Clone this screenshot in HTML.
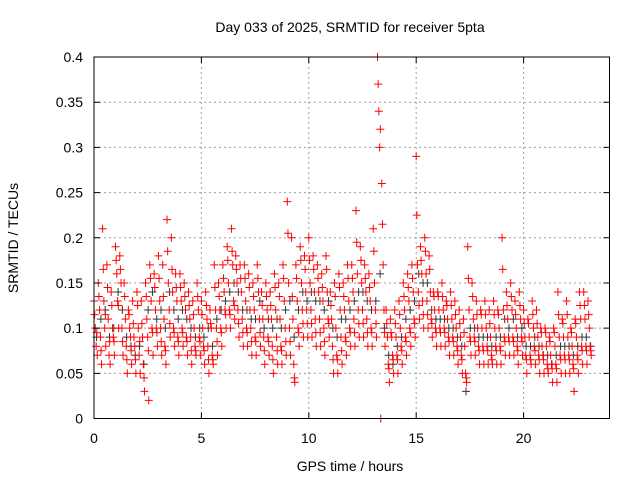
<!DOCTYPE html>
<html><head><meta charset="utf-8"><style>
html,body{margin:0;padding:0;background:#fff}
svg{display:block;font-family:"Liberation Sans",sans-serif}
</style></head><body>
<svg id="chart" width="640" height="480" viewBox="0 0 640 480">
<rect width="640" height="480" fill="#fff"/>
<g id="grid"></g>
<g id="darkPts"></g>
<g id="redPts"></g>
<rect x="94" y="57" width="515.5" height="361.5" fill="none" stroke="#000" stroke-width="1"/>
<g id="ticks"></g>
<text x="350" y="32" text-anchor="middle" font-size="14">Day 033 of 2025, SRMTID for receiver 5pta</text>
<text x="350" y="471" text-anchor="middle" font-size="14">GPS time / hours</text>
<text x="18" y="238" text-anchor="middle" font-size="14" transform="rotate(-90 18 238)">SRMTID / TECUs</text>
</svg>
<script>
const xTicks=[0,5,10,15,20];
const yTicks=[0,0.05,0.1,0.15,0.2,0.25,0.3,0.35,0.4];
const yTickLabels=["0","0.05","0.1","0.15","0.2","0.25","0.3","0.35","0.4"];
const binHours=0.2;
const red1=[.13,.15,.21,.17,.14, .19,.18,.15,.12,.13, .14,.13,.15,.17,.16, .18,.17,.22,.20,.16, .16,.15,.14,.13,.15, .13,.14,.12,.17,.15, .17,.19,.21,.18,.17, .17,.16,.15,.17,.14, .15,.14,.16,.15,.17, .24,.20,.17,.19,.18, .20,.18,.17,.16,.18, .14,.15,.16,.15,.17, .17,.23,.19,.17,.16, .21,.40,.26,.12,.11, .12,.13,.15,.16,.17, .29,.19,.20,.18,.14, .14,.15,.13,.14,.13, .12,.11,.19,.15,.13, .12,.13,.12,.13,.12, .20,.14,.15,.13,.14, .12,.11,.13,.12,.10, .10,.09,.10,.14,.11, .13,.10,.11,.14,.14, .13];
const red2=[.10,.12,.13,.11,.10, .16,.15,.11,.10,.09, .10,.09,.11,.13,.12, .13,.11,.15,.14,.13, .13,.12,.11,.10,.12, .10,.11,.10,.12,.12, .14,.15,.17,.15,.14, .13,.12,.12,.14,.11, .12,.11,.12,.11,.13, .15,.11,.13,.15,.14, .15,.14,.14,.13,.14, .11,.10,.12,.12,.13, .14,.16,.15,.14,.13, .15,.34,.17,.09,.09, .09,.10,.12,.13,.14, .17,.16,.16,.14,.12, .12,.12,.11,.11,.10, .09,.08,.12,.11,.10, .10,.10,.09,.10,.10, .12,.11,.12,.10,.11, .09,.09,.10,.09,.08, .08,.07,.08,.09,.09, .09,.08,.09,.11,.11, .10];
const red3=[.08,.09,.10,.07,.09, .13,.10,.08,.09,.08, .07,.06,.09,.10,.10, .10,.08,.12,.10,.09, .10,.09,.09,.08,.09, .08,.08,.07,.10,.10, .12,.12,.13,.12,.11, .10,.10,.09,.11,.09, .09,.08,.09,.08,.10, .10,.06,.10,.12,.12, .12,.11,.11,.10,.11, .08,.07,.09,.09,.10, .11,.12,.12,.11,.10, .12,.30,.12,.06,.07, .07,.08,.09,.10,.11, .14,.13,.13,.11,.10, .10,.10,.09,.09,.08, .07,.05,.09,.09,.08, .08,.08,.07,.08,.08, .09,.09,.09,.08,.09, .07,.07,.08,.07,.07, .06,.06,.06,.07,.07, .07,.06,.07,.08,.08, .08];
const red4=[.07,.06,.08,.06,.07, .10,.07,.05,.06,.05, .05,.03,.02,.07,.08, .07,.06,.09,.08,.07, .08,.07,.06,.07,.07, .06,.05,.06,.07,.08, .10,.10,.11,.09,.08, .08,.07,.07,.08,.06, .07,.05,.06,.06,.07, .07,.04,.08,.09,.09, .09,.08,.08,.07,.09, .05,.05,.06,.07,.08, .08,.09,.09,.08,.08, .09,.00,.08,.04,.05, .05,.06,.07,.08,.09, .11,.10,.10,.09,.08, .08,.08,.07,.07,.06, .05,.04,.07,.07,.06, .06,.06,.06,.06,.06, .07,.07,.07,.06,.07, .05,.06,.06,.05,.05, .05,.04,.04,.05,.05, .05,.03,.05,.06,.06, .07];
const red5=[.115,.135,.165,.145,.125, .175,.165,.135,.115,.105, .125,.105,.135,.155,.145, .155,.135,.185,.165,.145, .145,.135,.125,.115,.135, .115,.125,.105,.145,.135, .155,.175,.185,.165,.155, .155,.145,.135,.155,.125, .135,.125,.145,.135,.155, .205,.135,.155,.175,.165, .175,.165,.155,.145,.165, .125,.135,.145,.135,.155, .155,.195,.175,.155,.145, .185,.37,.215,.105,.095, .105,.115,.135,.145,.155, .225,.175,.185,.165,.135, .135,.135,.125,.125,.115, .105,.095,.155,.135,.115, .115,.115,.105,.115,.115, .165,.125,.135,.115,.125, .105,.105,.115,.105,.095, .095,.085,.095,.115,.105, .115,.095,.105,.125,.125, .115];
const red6=[.095,.075,.115,.085,.085, .125,.085,.065,.075,.065, .085,.045,.075,.095,.095, .085,.075,.105,.095,.085, .095,.085,.075,.075,.085, .075,.065,.065,.085,.095, .115,.115,.125,.105,.095, .095,.085,.085,.095,.075, .085,.065,.075,.075,.085, .085,.045,.095,.105,.105, .105,.095,.095,.085,.105, .065,.065,.075,.085,.095, .095,.105,.105,.095,.095, .105,.32,.095,.055,.065, .065,.075,.085,.095,.105, .125,.115,.115,.105,.095, .095,.095,.085,.085,.075, .065,.045,.085,.085,.075, .075,.075,.065,.075,.075, .085,.085,.085,.075,.085, .065,.065,.075,.065,.065, .055,.055,.055,.065,.065, .065,.055,.065,.075,.075, .075];
const dark1=[.09,.11,.12,.09,.10, .14,.12,.09,.08,.07, .08,.06,.12,.14,.11, .12,.10,.14,.12,.11, .12,.11,.10,.09,.10, .09,.10,.08,.11,.12, .13,.14,.15,.14,.12, .12,.11,.11,.13,.10, .11,.10,.11,.10,.12, .13,.09,.12,.14,.13, .14,.13,.13,.12,.13, .10,.09,.11,.11,.12, .13,.14,.14,.13,.12, .13,.16,.10,.07,.06, .08,.09,.11,.12,.13, .16,.15,.15,.12,.11, .11,.11,.10,.10,.09, .08,.03,.10,.10,.09, .09,.09,.08,.09,.09, .11,.10,.11,.09,.10, .08,.08,.09,.08,.07, .07,.06,.07,.08,.08, .08,.07,.08,.09,.09, .08];

const X0=94,X1=609.5,Y0=418.5,Y1=57,XMAX=24,YMAX=0.4;
const xs=t=>X0+(t/XMAX)*(X1-X0);
const ys=v=>Y0-(v/YMAX)*(Y0-Y1);
const NS="http://www.w3.org/2000/svg";
function mk(tag,attrs,parent){const e=document.createElementNS(NS,tag);for(const k in attrs)e.setAttribute(k,attrs[k]);parent.appendChild(e);return e;}
const grid=document.getElementById('grid'),ticks=document.getElementById('ticks');
xTicks.forEach((t,i)=>{
  const x=xs(t);
  if(t>0){const g=mk('line',{x1:x,x2:x,y1:Y1,y2:Y0,stroke:'#a0a0a0','stroke-dasharray':'2,3','stroke-width':1},grid);
  
  }
  const tk=mk('path',{d:`M${x},${Y0}v-6M${x},${Y1}v6`,stroke:'#000','stroke-width':1},ticks);
  
  
  const lb=mk('text',{x:x,y:443,'text-anchor':'middle','font-size':14},ticks);lb.textContent=String(t);
  
  
});
yTicks.forEach((v,i)=>{
  const y=ys(v);
  if(v>0&&v<YMAX){const g=mk('line',{x1:X0,x2:X1,y1:y,y2:y,stroke:'#a0a0a0','stroke-dasharray':'2,3','stroke-width':1},grid);
  
  }
  const tk=mk('path',{d:`M${X0},${y}h6M${X1},${y}h-6`,stroke:'#000','stroke-width':1},ticks);
  
  
  const lb=mk('text',{x:83,y:y+5,'text-anchor':'end','font-size':14},ticks);lb.textContent=yTickLabels[i];
  
  
});
function plot(series,offset,color,group,name){
  let d='';
  series.forEach((v,i)=>{const t=i*binHours+offset;if(t>XMAX)return;const x=xs(t),y=ys(v);d+=`M${x-4},${y}h8M${x},${y-4}v8`;});
  const p=mk('path',{d:d,stroke:color,'stroke-width':1,fill:'none'},group);
  
  
}
const dg=document.getElementById('darkPts'),rg=document.getElementById('redPts');
plot(dark1,0.12,'#333',dg,'dark-markers');
plot(red1,0.0,'#f00',rg,'red-markers-1');
plot(red2,0.06,'#f00',rg,'red-markers-2');
plot(red3,0.1,'#f00',rg,'red-markers-3');
plot(red4,0.15,'#f00',rg,'red-markers-4');
plot(red5,0.03,'#f00',rg,'red-markers-5');
plot(red6,0.13,'#f00',rg,'red-markers-6');
</script>
</body></html>
